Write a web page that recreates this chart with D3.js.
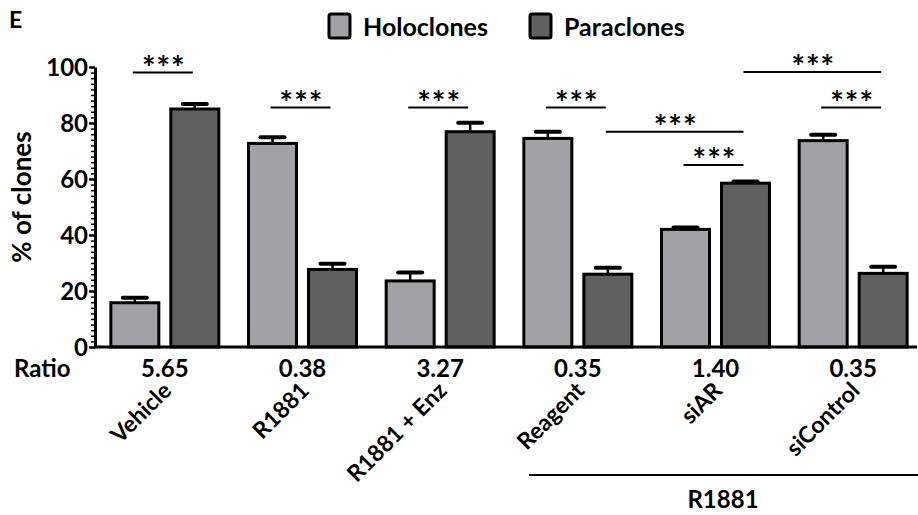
<!DOCTYPE html>
<html>
<head>
<meta charset="utf-8">
<script src="https://cdn.jsdelivr.net/npm/d3@7"></script>
<style>
  body { margin: 0; background: #fff; }
  svg { display: block; font-family: Lato, "Open Sans", sans-serif; font-weight: 700; }
</style>
</head>
<body>
<svg id="chart"></svg>
<script>
// data
var groups = ["Vehicle", "R1881", "R1881 + Enz", "Reagent", "siAR", "siControl"];
var seriesNames = ["Holoclones", "Paraclones"];
var holoclones = [15.8, 72.7, 23.6, 74.5, 42.0, 73.7];
var holoErr = [1.8, 2.2, 3.0, 2.4, 0.7, 2.1];
var paraclones = [85.0, 27.7, 76.9, 26.0, 58.5, 26.3];
var paraErr = [1.8, 2.0, 3.2, 2.3, 0.6, 2.4];
var ratios = ["5.65", "0.38", "3.27", "0.35", "1.40", "0.35"];
var yTicks = [0, 20, 40, 60, 80, 100];
// significance: [group1, series1, group2, series2, y level]
var sigs = [
  [0, 0, 0, 1, 98],
  [1, 0, 1, 1, 85.5],
  [2, 0, 2, 1, 85.5],
  [3, 0, 3, 1, 85.5],
  [3, 1, 4, 1, 76.9],
  [4, 0, 4, 1, 65],
  [5, 0, 5, 1, 85.5],
  [4, 1, 5, 1, 98.2]
];

const width = 918;
const height = 515;
const colors = ["#a2a1a6", "#606060"];

var svg = d3.select("#chart").attr("width", width).attr("height", height);

const x0 = d3.scaleBand(groups, [96, 922]).padding(0);
const x1 = d3.scaleBand([0, 1], [0, x0.bandwidth()]).paddingInner(0.2).paddingOuter(0.2475);
const y = d3.scaleLinear([0, 100], [347, 67]);

function cx(g, s) { return x0(groups[g]) + x1(s) + x1.bandwidth() / 2; }

// bars
var rows = [];
groups.forEach(function(g, i) {
  rows.push({ g: i, s: 0, v: holoclones[i], e: holoErr[i] });
  rows.push({ g: i, s: 1, v: paraclones[i], e: paraErr[i] });
});

// error bars (behind the bars)
var eb = svg.append("g").attr("stroke", "#000").attr("stroke-width", 2.5);
rows.forEach(function(r) {
  var c = cx(r.g, r.s);
  eb.append("line").attr("x1", c).attr("x2", c).attr("y1", y(r.v)).attr("y2", y(r.v + r.e));
  eb.append("line").attr("x1", c - 12).attr("x2", c + 12).attr("y1", y(r.v + r.e)).attr("y2", y(r.v + r.e))
    .attr("stroke-width", 4).attr("stroke-linecap", "round");
});

svg.append("g").selectAll("rect").data(rows).join("rect")
  .attr("x", function(d) { return x0(groups[d.g]) + x1(d.s); })
  .attr("y", function(d) { return y(d.v); })
  .attr("width", x1.bandwidth())
  .attr("height", function(d) { return y(0) - y(d.v); })
  .attr("fill", function(d) { return colors[d.s]; })
  .attr("stroke", "#000")
  .attr("stroke-width", 3);

// y axis with minor ticks
svg.append("g")
  .attr("transform", "translate(95,0)")
  .call(d3.axisLeft(y).tickValues(d3.range(0, 101, 2)).tickSize(4).tickFormat(""))
  .call(function(g) { g.selectAll("line").attr("stroke-width", 1.5); g.select(".domain").remove(); });
svg.append("g")
  .attr("transform", "translate(95,0)")
  .call(d3.axisLeft(y).tickValues(yTicks).tickSize(6).tickSizeOuter(0).tickPadding(1))
  .call(function(g) {
    g.select(".domain").attr("stroke-width", 3);
    g.selectAll("line").attr("stroke-width", 2.5);
    g.selectAll("text").attr("font-size", 24).attr("font-family", "Lato, sans-serif").attr("font-weight", 700).attr("fill", "#000").attr("dy", "0.36em");
  });

// x axis line
svg.append("line").attr("x1", 94).attr("x2", 917).attr("y1", y(0)).attr("y2", y(0))
  .attr("stroke", "#000").attr("stroke-width", 3);

// y title
svg.append("text").attr("transform", "translate(31,197) rotate(-90)")
  .attr("text-anchor", "middle").attr("font-size", 26).text("% of clones");

// panel letter
svg.append("text").attr("x", 9).attr("y", 28).attr("font-size", 23).text("E");

// ratio row
svg.append("text").attr("x", 14).attr("y", 377).attr("font-size", 24).text("Ratio");
svg.append("g").selectAll("text").data(ratios).join("text")
  .attr("x", function(d, i) { return x0(groups[i]) + x0.bandwidth() / 2; })
  .attr("y", 377).attr("text-anchor", "middle").attr("font-size", 24)
  .text(function(d) { return d; });

// category labels
svg.append("g").selectAll("text").data(groups).join("text")
  .attr("transform", function(d) {
    return "translate(" + (x0(d) + x0.bandwidth() / 2 + 8) + ",392) rotate(-45)";
  })
  .attr("text-anchor", "end").attr("font-size", 23)
  .text(function(d) { return d; });

// R1881 bracket
svg.append("line").attr("x1", 529).attr("x2", 918).attr("y1", 475).attr("y2", 475)
  .attr("stroke", "#000").attr("stroke-width", 2);
svg.append("text").attr("x", 723).attr("y", 508).attr("text-anchor", "middle").attr("font-size", 24).text("R1881");

// significance lines
var sg = svg.append("g");
sigs.forEach(function(s) {
  var a = cx(s[0], s[1]), b = cx(s[2], s[3]);
  sg.append("line").attr("x1", a - 2).attr("x2", b - 2).attr("y1", y(s[4])).attr("y2", y(s[4]))
    .attr("stroke", "#000").attr("stroke-width", 2);
  sg.append("text").attr("x", (a + b) / 2 - 1).attr("y", y(s[4]) + 7)
    .attr("text-anchor", "middle").attr("font-size", 32).attr("letter-spacing", 1)
    .text("***");
});

// legend
var lg = svg.append("g");
seriesNames.forEach(function(n, i) {
  var lx = [329, 530][i];
  lg.append("rect").attr("x", lx).attr("y", 14).attr("width", 21).attr("height", 24)
    .attr("rx", 2).attr("fill", colors[i]).attr("stroke", "#000").attr("stroke-width", 3);
  lg.append("text").attr("x", lx + 34).attr("y", 36).attr("font-size", 25).text(n);
});
</script>
</body>
</html>
